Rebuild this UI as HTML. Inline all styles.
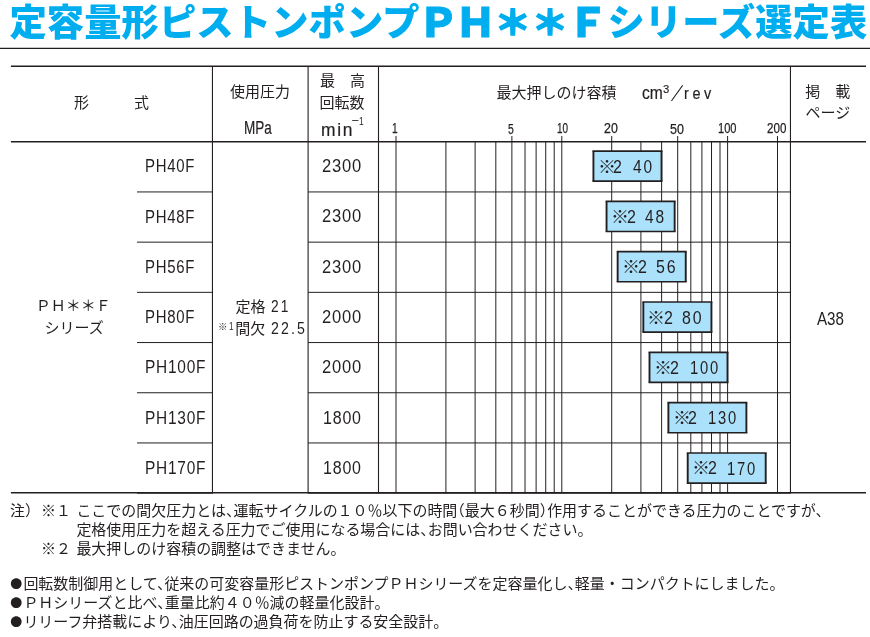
<!DOCTYPE html>
<html lang="ja"><head><meta charset="utf-8"><title>定容量形ピストンポンプＰＨ＊＊Ｆシリーズ選定表</title>
<style>
html,body{margin:0;padding:0;background:#fff;}
body{width:870px;height:637px;position:relative;overflow:hidden;color:#231f20;
 font-family:"Liberation Sans","Noto Sans CJK JP",sans-serif;font-size:15px;}
svg{position:absolute;left:0;top:0;}
.t{position:absolute;white-space:nowrap;line-height:1;transform-origin:0 0;}
.title{position:absolute;left:9.3px;top:-5.3px;font-size:36.6px;line-height:56px;font-weight:900;color:#00aeef;white-space:nowrap;letter-spacing:0.8px;}
.n{font-size:14.98px;}
.b{font-family:"Noto Sans CJK JP",sans-serif;display:inline-block;width:13.4px;font-size:0.8em;position:relative;top:0.4px;left:0.3px;}
.hr{margin-right:-0.5em;}
.hl{margin-left:-0.5em;}
</style></head><body>
<svg width="870" height="637" viewBox="0 0 870 637">
<line x1="0.00" y1="48.40" x2="870.00" y2="48.40" stroke="#231f20" stroke-width="1.15"/>
<line x1="10.90" y1="66.20" x2="866.00" y2="66.20" stroke="#231f20" stroke-width="1.5"/>
<line x1="10.90" y1="141.75" x2="866.00" y2="141.75" stroke="#231f20" stroke-width="1.45"/>
<line x1="10.90" y1="492.80" x2="866.00" y2="492.80" stroke="#231f20" stroke-width="1.5"/>
<line x1="212.45" y1="66.20" x2="212.45" y2="493.50" stroke="#231f20" stroke-width="1.1"/>
<line x1="308.10" y1="66.20" x2="308.10" y2="493.50" stroke="#231f20" stroke-width="1.1"/>
<line x1="378.50" y1="66.20" x2="378.50" y2="493.50" stroke="#231f20" stroke-width="1.1"/>
<line x1="790.45" y1="66.20" x2="790.45" y2="493.50" stroke="#231f20" stroke-width="1.1"/>
<line x1="137.00" y1="191.95" x2="212.45" y2="191.95" stroke="#231f20" stroke-width="1.0"/>
<line x1="308.10" y1="191.95" x2="790.45" y2="191.95" stroke="#231f20" stroke-width="1.0"/>
<line x1="137.00" y1="242.15" x2="212.45" y2="242.15" stroke="#231f20" stroke-width="1.0"/>
<line x1="308.10" y1="242.15" x2="790.45" y2="242.15" stroke="#231f20" stroke-width="1.0"/>
<line x1="137.00" y1="292.35" x2="212.45" y2="292.35" stroke="#231f20" stroke-width="1.0"/>
<line x1="308.10" y1="292.35" x2="790.45" y2="292.35" stroke="#231f20" stroke-width="1.0"/>
<line x1="137.00" y1="342.55" x2="212.45" y2="342.55" stroke="#231f20" stroke-width="1.0"/>
<line x1="308.10" y1="342.55" x2="790.45" y2="342.55" stroke="#231f20" stroke-width="1.0"/>
<line x1="137.00" y1="392.75" x2="212.45" y2="392.75" stroke="#231f20" stroke-width="1.0"/>
<line x1="308.10" y1="392.75" x2="790.45" y2="392.75" stroke="#231f20" stroke-width="1.0"/>
<line x1="137.00" y1="442.95" x2="212.45" y2="442.95" stroke="#231f20" stroke-width="1.0"/>
<line x1="308.10" y1="442.95" x2="790.45" y2="442.95" stroke="#231f20" stroke-width="1.0"/>
<line x1="137.00" y1="493.15" x2="212.45" y2="493.15" stroke="#231f20" stroke-width="1.0"/>
<line x1="308.10" y1="493.15" x2="790.45" y2="493.15" stroke="#231f20" stroke-width="1.0"/>
<line x1="396.00" y1="136.00" x2="396.00" y2="493.50" stroke="#231f20" stroke-width="1.0"/>
<line x1="445.91" y1="141.75" x2="445.91" y2="493.50" stroke="#231f20" stroke-width="1.0"/>
<line x1="475.11" y1="141.75" x2="475.11" y2="493.50" stroke="#231f20" stroke-width="1.0"/>
<line x1="495.82" y1="141.75" x2="495.82" y2="493.50" stroke="#231f20" stroke-width="1.0"/>
<line x1="511.89" y1="136.00" x2="511.89" y2="493.50" stroke="#231f20" stroke-width="1.0"/>
<line x1="525.02" y1="141.75" x2="525.02" y2="493.50" stroke="#231f20" stroke-width="1.0"/>
<line x1="536.12" y1="141.75" x2="536.12" y2="493.50" stroke="#231f20" stroke-width="1.0"/>
<line x1="545.73" y1="141.75" x2="545.73" y2="493.50" stroke="#231f20" stroke-width="1.0"/>
<line x1="554.21" y1="141.75" x2="554.21" y2="493.50" stroke="#231f20" stroke-width="1.0"/>
<line x1="561.80" y1="136.00" x2="561.80" y2="493.50" stroke="#231f20" stroke-width="1.0"/>
<line x1="611.71" y1="136.00" x2="611.71" y2="493.50" stroke="#231f20" stroke-width="1.0"/>
<line x1="640.91" y1="141.75" x2="640.91" y2="493.50" stroke="#231f20" stroke-width="1.0"/>
<line x1="661.62" y1="141.75" x2="661.62" y2="493.50" stroke="#231f20" stroke-width="1.0"/>
<line x1="677.69" y1="136.00" x2="677.69" y2="493.50" stroke="#231f20" stroke-width="1.0"/>
<line x1="690.82" y1="141.75" x2="690.82" y2="493.50" stroke="#231f20" stroke-width="1.0"/>
<line x1="701.92" y1="141.75" x2="701.92" y2="493.50" stroke="#231f20" stroke-width="1.0"/>
<line x1="711.53" y1="141.75" x2="711.53" y2="493.50" stroke="#231f20" stroke-width="1.0"/>
<line x1="720.01" y1="141.75" x2="720.01" y2="493.50" stroke="#231f20" stroke-width="1.0"/>
<line x1="727.60" y1="136.00" x2="727.60" y2="493.50" stroke="#231f20" stroke-width="1.0"/>
<line x1="777.51" y1="136.00" x2="777.51" y2="493.50" stroke="#231f20" stroke-width="1.0"/>
<rect x="593.42" y="151.05" width="68.10" height="30.10" fill="#abe1fa"/>
<line x1="592.47" y1="151.05" x2="662.47" y2="151.05" stroke="#231f20" stroke-width="1.65"/>
<line x1="592.47" y1="181.15" x2="662.47" y2="181.15" stroke="#231f20" stroke-width="1.65"/>
<line x1="593.42" y1="151.05" x2="593.42" y2="181.15" stroke="#231f20" stroke-width="1.9"/>
<line x1="661.52" y1="151.05" x2="661.52" y2="181.15" stroke="#231f20" stroke-width="1.9"/>
<rect x="606.55" y="201.37" width="68.10" height="30.10" fill="#abe1fa"/>
<line x1="605.60" y1="201.37" x2="675.60" y2="201.37" stroke="#231f20" stroke-width="1.65"/>
<line x1="605.60" y1="231.47" x2="675.60" y2="231.47" stroke="#231f20" stroke-width="1.65"/>
<line x1="606.55" y1="201.37" x2="606.55" y2="231.47" stroke="#231f20" stroke-width="1.9"/>
<line x1="674.65" y1="201.37" x2="674.65" y2="231.47" stroke="#231f20" stroke-width="1.9"/>
<rect x="617.65" y="251.69" width="68.10" height="30.10" fill="#abe1fa"/>
<line x1="616.70" y1="251.69" x2="686.70" y2="251.69" stroke="#231f20" stroke-width="1.65"/>
<line x1="616.70" y1="281.79" x2="686.70" y2="281.79" stroke="#231f20" stroke-width="1.65"/>
<line x1="617.65" y1="251.69" x2="617.65" y2="281.79" stroke="#231f20" stroke-width="1.9"/>
<line x1="685.75" y1="251.69" x2="685.75" y2="281.79" stroke="#231f20" stroke-width="1.9"/>
<rect x="643.33" y="302.01" width="68.10" height="30.10" fill="#abe1fa"/>
<line x1="642.38" y1="302.01" x2="712.38" y2="302.01" stroke="#231f20" stroke-width="1.65"/>
<line x1="642.38" y1="332.11" x2="712.38" y2="332.11" stroke="#231f20" stroke-width="1.65"/>
<line x1="643.33" y1="302.01" x2="643.33" y2="332.11" stroke="#231f20" stroke-width="1.9"/>
<line x1="711.43" y1="302.01" x2="711.43" y2="332.11" stroke="#231f20" stroke-width="1.9"/>
<rect x="649.50" y="352.33" width="78.00" height="30.10" fill="#abe1fa"/>
<line x1="648.55" y1="352.33" x2="728.45" y2="352.33" stroke="#231f20" stroke-width="1.65"/>
<line x1="648.55" y1="382.43" x2="728.45" y2="382.43" stroke="#231f20" stroke-width="1.65"/>
<line x1="649.50" y1="352.33" x2="649.50" y2="382.43" stroke="#231f20" stroke-width="1.9"/>
<line x1="727.50" y1="352.33" x2="727.50" y2="382.43" stroke="#231f20" stroke-width="1.9"/>
<rect x="668.39" y="402.65" width="78.00" height="30.10" fill="#abe1fa"/>
<line x1="667.44" y1="402.65" x2="747.34" y2="402.65" stroke="#231f20" stroke-width="1.65"/>
<line x1="667.44" y1="432.75" x2="747.34" y2="432.75" stroke="#231f20" stroke-width="1.65"/>
<line x1="668.39" y1="402.65" x2="668.39" y2="432.75" stroke="#231f20" stroke-width="1.9"/>
<line x1="746.39" y1="402.65" x2="746.39" y2="432.75" stroke="#231f20" stroke-width="1.9"/>
<rect x="687.71" y="452.97" width="78.00" height="30.10" fill="#abe1fa"/>
<line x1="686.76" y1="452.97" x2="766.66" y2="452.97" stroke="#231f20" stroke-width="1.65"/>
<line x1="686.76" y1="483.07" x2="766.66" y2="483.07" stroke="#231f20" stroke-width="1.65"/>
<line x1="687.71" y1="452.97" x2="687.71" y2="483.07" stroke="#231f20" stroke-width="1.9"/>
<line x1="765.71" y1="452.97" x2="765.71" y2="483.07" stroke="#231f20" stroke-width="1.9"/>
</svg>
<div class="g"><div class="t" style="left:9.40px;top:5.46px;font-size:37.30px;font-weight:900;color:#00aeef;letter-spacing:0.1px;">定容量形ピストンポンプ</div><div class="t" style="left:418.17px;top:3.13px;font-size:40.72px;transform:scaleX(0.9984);font-weight:900;color:#00aeef;letter-spacing:-0.083em;-webkit-text-stroke:0.9px #00aeef;">ＰＨ<span style="display:inline-block;transform:scaleY(0.92);font-size:0.91em;letter-spacing:0.008em;position:relative;top:-0.04em;margin:0 -1.6px 0 1.6px;-webkit-text-stroke-width:1.5px;">＊＊</span>Ｆ</div><div class="t" style="left:607.48px;top:5.46px;font-size:37.30px;font-weight:900;color:#00aeef;letter-spacing:0.1px;">シリーズ選定表</div></div>
<div class="t" style="left:74.01px;top:94.90px;font-size:15.00px;">形　　　式</div>
<div class="t" style="left:229.98px;top:84.17px;font-size:15.00px;">使用圧力</div>
<div class="t" style="left:243.82px;top:119.00px;font-size:18.09px;transform:scaleX(0.7485);-webkit-text-stroke:0.2px #231f20;">MPa</div>
<div class="t" style="left:320.01px;top:73.47px;font-size:15.00px;">最　高</div>
<div class="t" style="left:319.59px;top:95.29px;font-size:15.00px;">回転数</div>
<div class="g"><div class="t" style="left:321.18px;top:121.87px;font-size:17.54px;transform:scaleX(0.9932);letter-spacing:0.1em;-webkit-text-stroke:0.2px #231f20;">min</div><div class="t" style="left:350.69px;top:114.45px;font-size:11.30px;transform:scaleX(2.2699);">-</div><div class="t" style="left:359.05px;top:115.10px;font-size:11.71px;transform:scaleX(0.7200);">1</div></div>
<div class="g"><div class="t" style="left:496.62px;top:85.37px;font-size:15.00px;">最大押しのけ容積</div> <div class="t" style="left:642.13px;top:85.20px;font-size:17.64px;transform:scaleX(0.8866);-webkit-text-stroke:0.2px #231f20;">cm</div><div class="t" style="left:663.18px;top:84.13px;font-size:11.38px;transform:scaleX(0.9911);-webkit-text-stroke:0.15px #231f20;">3</div><div class="t" style="left:671.22px;top:86.62px;font-size:16.92px;transform:scaleX(0.7200);-webkit-text-stroke:0.4px #231f20;">／</div><div class="t" style="left:683.84px;top:85.10px;font-size:17.28px;transform:scaleX(0.8351);letter-spacing:0.25em;-webkit-text-stroke:0.2px #231f20;">rev</div></div>
<div class="t" style="left:805.32px;top:83.67px;font-size:15.00px;">掲　載</div>
<div class="t" style="left:805.45px;top:105.19px;font-size:15.00px;">ページ</div>
<div class="t" style="left:392.45px;top:121.14px;font-size:14.11px;transform:scaleX(0.7200);-webkit-text-stroke:0.25px #231f20;">1</div>
<div class="t" style="left:508.11px;top:121.79px;font-size:13.99px;transform:scaleX(0.7442);-webkit-text-stroke:0.25px #231f20;">5</div>
<div class="t" style="left:556.58px;top:122.14px;font-size:13.79px;transform:scaleX(0.7200);-webkit-text-stroke:0.25px #231f20;">10</div>
<div class="t" style="left:603.94px;top:122.14px;font-size:13.79px;transform:scaleX(0.8992);-webkit-text-stroke:0.25px #231f20;">20</div>
<div class="t" style="left:670.02px;top:122.78px;font-size:13.79px;transform:scaleX(0.9075);-webkit-text-stroke:0.25px #231f20;">50</div>
<div class="t" style="left:717.85px;top:122.15px;font-size:13.79px;transform:scaleX(0.8068);-webkit-text-stroke:0.25px #231f20;">100</div>
<div class="t" style="left:767.27px;top:122.15px;font-size:13.79px;transform:scaleX(0.8418);-webkit-text-stroke:0.25px #231f20;">200</div>
<div class="t" style="left:35.68px;top:297.90px;font-size:15.00px;">ＰＨ＊＊Ｆ</div>
<div class="t" style="left:44.59px;top:319.73px;font-size:15.00px;">シリーズ</div>
<div class="g"><div class="t" style="left:145.40px;top:157.80px;font-size:17.45px;transform:scaleX(0.8560);letter-spacing:0.05em;">PH40F</div> <div class="t" style="left:322.25px;top:157.80px;font-size:17.45px;transform:scaleX(0.9492);letter-spacing:0.05em;">2300</div> <div class="t" style="left:597.67px;top:159.77px;font-size:16.69px;transform:scaleX(1.0808);">※</div><div class="t" style="left:613.19px;top:158.83px;font-size:17.80px;transform:scaleX(0.9000);">2</div> <div class="t" style="left:632.81px;top:158.97px;font-size:17.59px;transform:scaleX(0.8796);letter-spacing:0.12em;">40</div></div>
<div class="g"><div class="t" style="left:145.40px;top:208.64px;font-size:17.45px;transform:scaleX(0.8560);letter-spacing:0.05em;">PH48F</div> <div class="t" style="left:322.25px;top:208.12px;font-size:17.45px;transform:scaleX(0.9492);letter-spacing:0.05em;">2300</div> <div class="t" style="left:610.79px;top:209.52px;font-size:16.69px;transform:scaleX(1.0808);">※</div><div class="t" style="left:626.60px;top:208.57px;font-size:17.80px;transform:scaleX(0.9000);">2</div> <div class="t" style="left:645.46px;top:208.63px;font-size:17.59px;transform:scaleX(0.8823);letter-spacing:0.12em;">48</div></div>
<div class="g"><div class="t" style="left:145.40px;top:259.28px;font-size:17.45px;transform:scaleX(0.8560);letter-spacing:0.05em;">PH56F</div> <div class="t" style="left:322.25px;top:259.26px;font-size:17.45px;transform:scaleX(0.9492);letter-spacing:0.05em;">2300</div> <div class="t" style="left:621.89px;top:259.84px;font-size:16.69px;transform:scaleX(1.0808);">※</div><div class="t" style="left:637.70px;top:258.89px;font-size:17.80px;transform:scaleX(0.9000);">2</div> <div class="t" style="left:656.14px;top:258.95px;font-size:17.59px;transform:scaleX(0.9083);letter-spacing:0.12em;">56</div></div>
<div class="g"><div class="t" style="left:145.40px;top:308.76px;font-size:17.45px;transform:scaleX(0.8560);letter-spacing:0.05em;">PH80F</div> <div class="t" style="left:322.25px;top:308.76px;font-size:17.45px;transform:scaleX(0.9492);letter-spacing:0.05em;">2000</div> <div class="t" style="left:647.31px;top:310.69px;font-size:16.69px;transform:scaleX(1.0808);">※</div><div class="t" style="left:663.83px;top:309.75px;font-size:17.80px;transform:scaleX(0.9000);">2</div> <div class="t" style="left:681.83px;top:309.83px;font-size:17.59px;transform:scaleX(0.9050);letter-spacing:0.12em;">80</div></div>
<div class="g"><div class="t" style="left:145.41px;top:359.08px;font-size:17.45px;transform:scaleX(0.8847);letter-spacing:0.05em;">PH100F</div> <div class="t" style="left:322.25px;top:359.08px;font-size:17.45px;transform:scaleX(0.9492);letter-spacing:0.05em;">2000</div> <div class="t" style="left:653.74px;top:361.33px;font-size:16.69px;transform:scaleX(1.0808);">※</div><div class="t" style="left:669.50px;top:359.53px;font-size:17.80px;transform:scaleX(0.9000);">2</div> <div class="t" style="left:689.54px;top:359.53px;font-size:17.59px;transform:scaleX(0.8398);letter-spacing:0.12em;">100</div></div>
<div class="g"><div class="t" style="left:145.41px;top:410.20px;font-size:17.44px;transform:scaleX(0.8847);letter-spacing:0.05em;">PH130F</div> <div class="t" style="left:323.40px;top:410.20px;font-size:17.45px;transform:scaleX(0.9169);letter-spacing:0.05em;">1800</div> <div class="t" style="left:672.55px;top:410.80px;font-size:16.69px;transform:scaleX(1.0808);">※</div><div class="t" style="left:688.07px;top:409.85px;font-size:17.80px;transform:scaleX(0.9000);">2</div> <div class="t" style="left:708.30px;top:409.85px;font-size:17.59px;transform:scaleX(0.8398);letter-spacing:0.12em;">130</div></div>
<div class="g"><div class="t" style="left:145.41px;top:459.72px;font-size:17.45px;transform:scaleX(0.8847);letter-spacing:0.05em;">PH170F</div> <div class="t" style="left:323.40px;top:459.72px;font-size:17.45px;transform:scaleX(0.9169);letter-spacing:0.05em;">1800</div> <div class="t" style="left:691.95px;top:461.12px;font-size:16.69px;transform:scaleX(1.0808);">※</div><div class="t" style="left:707.76px;top:460.17px;font-size:17.80px;transform:scaleX(0.9000);">2</div> <div class="t" style="left:727.38px;top:460.69px;font-size:17.59px;transform:scaleX(0.8398);letter-spacing:0.12em;">170</div></div>
<div class="g"><div class="t" style="left:235.45px;top:298.77px;font-size:15.00px;">定格</div> <div class="t" style="left:270.70px;top:298.10px;font-size:17.07px;transform:scaleX(0.8044);letter-spacing:0.15em;">21</div></div>
<div class="g"><div class="t" style="left:217.88px;top:321.70px;font-size:9.50px;">※</div><div class="t" style="left:228.94px;top:321.20px;font-size:10.83px;transform:scaleX(0.7324);">1</div><div class="t" style="left:235.36px;top:320.75px;font-size:15.00px;">間欠</div> <div class="t" style="left:270.67px;top:320.30px;font-size:17.07px;transform:scaleX(0.8289);letter-spacing:0.15em;">22.5</div></div>
<div class="t" style="left:817.19px;top:310.90px;font-size:17.87px;transform:scaleX(0.8474);">A38</div>
<div class="g"><div class="t n" style="left:10.00px;top:503.20px;">注<span class="hr">）</span></div><div class="t n" style="left:41.00px;top:503.20px;">※１</div> <div class="t n" style="left:76.40px;top:503.20px;">ここでの間欠圧力とは<span class="hr">、</span>運転サイクルの１０％以下の時間<span class="hl">（</span>最大６秒間<span class="hr">）</span>作用することができる圧力のことですが<span class="hr">、</span></div></div>
<div class="t n" style="left:76.40px;top:522.10px;">定格使用圧力を超える圧力でご使用になる場合には<span class="hr">、</span>お問い合わせください。</div>
<div class="g"><div class="t n" style="left:41.00px;top:540.80px;">※２</div> <div class="t n" style="left:76.40px;top:540.80px;">最大押しのけ容積の調整はできません。</div></div>
<div class="t n" style="left:10.00px;top:575.95px;"><span class="b">●</span>回転数制御用として<span class="hr">、</span>従来の可変容量形ピストンポンプＰＨシリーズを定容量化し<span class="hr">、</span>軽量・コンパクトにしました。</div>
<div class="t n" style="left:10.00px;top:594.85px;"><span class="b">●</span>ＰＨシリーズと比べ<span class="hr">、</span>重量比約４０％減の軽量化設計。</div>
<div class="t n" style="left:10.00px;top:613.55px;"><span class="b">●</span>リリーフ弁搭載により<span class="hr">、</span>油圧回路の過負荷を防止する安全設計。</div>

</body></html>
